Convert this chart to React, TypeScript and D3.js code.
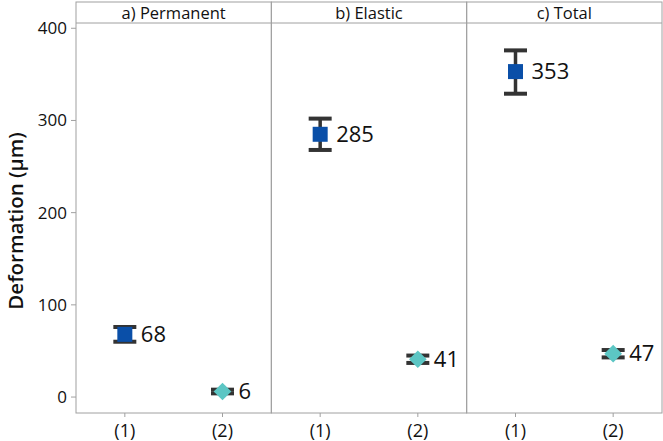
import React from "react";
import * as d3 from "d3";

const panels = ["a) Permanent", "b) Elastic", "c) Total"];
const groups = ["(1)", "(2)"];
const means = [
  [68, 6],
  [285, 41],
  [353, 47],
];
const lows = [
  [60, 4],
  [268, 37],
  [329, 43],
];
const highs = [
  [76, 8],
  [302, 45],
  [376, 51],
];
const yTicks = [0, 100, 200, 300, 400];

const W = 663;
const H = 441;
const left = 76;
const right = 662;
const top = 2;
const stripH = 21;
const bottom = 413;

export default function App() {
  const panelScale = d3.scaleBand<string>().domain(panels).range([left, right]).paddingInner(0).paddingOuter(0);
  const y = d3.scaleLinear().domain([-17.3, 405.7]).range([bottom, top + stripH]);
  const font = "'Open Sans', 'Noto Sans', sans-serif";
  const grey = "#a0a0a0";
  const dark = "#333333";
  return (
    <svg width={W} height={H} style={{ position: "absolute", left: 0, top: 0, background: "#fff" }}>
      {yTicks.map((t) => (
        <g key={t}>
          <line x1={left - 5} x2={left} y1={y(t)} y2={y(t)} stroke={grey} />
          <text x={left - 9} y={y(t)} dy="0.35em" textAnchor="end" fontSize={17} fontFamily={font} fill="#111">
            {t}
          </text>
        </g>
      ))}
      <text
        transform={`translate(22.5,221) rotate(-90)`}
        textAnchor="middle"
        fontSize={20.5}
        fontWeight={600}
        fontFamily={font}
        fill="#111"
      >
        Deformation (µm)
      </text>
      {panels.map((p, i) => {
        const x0 = panelScale(p)!;
        const bw = panelScale.bandwidth();
        const x = d3.scalePoint<string>().domain(groups).range([x0, x0 + bw]).padding(0.5);
        return (
          <g key={p}>
            <rect x={x0} y={top} width={bw} height={bottom - top} fill="none" stroke={grey} />
            <line x1={x0} x2={x0 + bw} y1={top + stripH} y2={top + stripH} stroke={grey} />
            <text x={x0 + bw / 2} y={top + stripH / 2 + 1} dy="0.35em" textAnchor="middle" fontSize={16.5} fontFamily={font} fill="#111">
              {p}
            </text>
            {groups.map((g, j) => {
              const cx = x(g)!;
              const cy = y(means[i][j]);
              const capW = 11.5;
              return (
                <g key={g}>
                  <line x1={cx} x2={cx} y1={bottom} y2={bottom + 4} stroke={grey} />
                  <text x={cx} y={431} dy="0.35em" textAnchor="middle" fontSize={18} fontFamily={font} fill="#111">
                    {g}
                  </text>
                  <line x1={cx} x2={cx} y1={y(lows[i][j])} y2={y(highs[i][j])} stroke={dark} strokeWidth={3.5} />
                  <line x1={cx - capW} x2={cx + capW} y1={y(lows[i][j])} y2={y(lows[i][j])} stroke={dark} strokeWidth={4} />
                  <line x1={cx - capW} x2={cx + capW} y1={y(highs[i][j])} y2={y(highs[i][j])} stroke={dark} strokeWidth={4} />
                  {j === 0 ? (
                    <rect x={cx - 7.5} y={cy - 7.5} width={15} height={15} fill="#0a4fa8" />
                  ) : (
                    <path d={d3.symbol(d3.symbolDiamond2, 200)()!} transform={`translate(${cx},${cy})`} fill="#5cc6c4" />
                  )}
                  <text x={cx + 16} y={cy} dy="0.35em" fontSize={22} fontFamily={font} fill="#111">
                    {means[i][j]}
                  </text>
                </g>
              );
            })}
          </g>
        );
      })}
    </svg>
  );
}
